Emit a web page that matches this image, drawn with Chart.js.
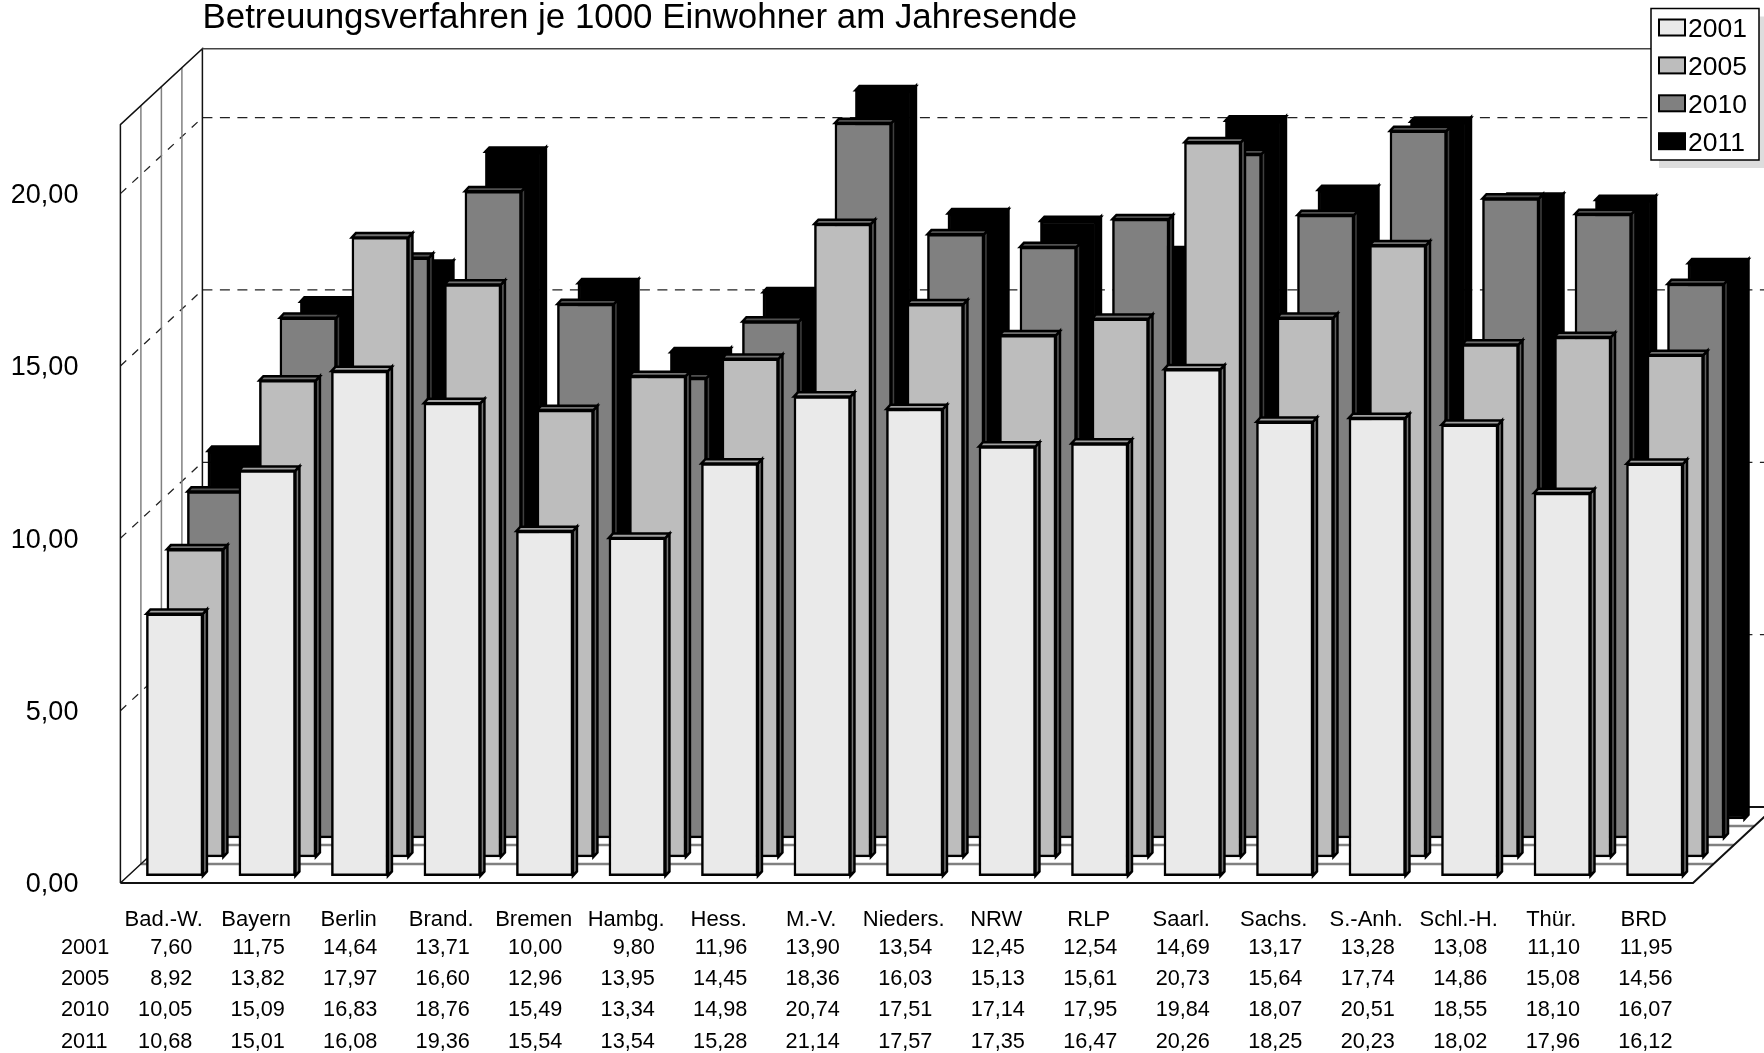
<!DOCTYPE html>
<html><head><meta charset="utf-8">
<style>html,body{margin:0;padding:0;background:#fff}canvas{display:block}</style>
<script src="https://cdn.jsdelivr.net/npm/chart.js@4/dist/chart.umd.min.js"></script>
</head><body><canvas id="c" width="1764" height="1053" style="width:1764px;height:1053px"></canvas>
<script>
const categories=["Bad.-W.","Bayern","Berlin","Brand.","Bremen","Hambg.","Hess.","M.-V.","Nieders.","NRW","RLP","Saarl.","Sachs.","S.-Anh.","Schl.-H.","Thür.","BRD"];
const v2001=[7.60,11.75,14.64,13.71,10.00,9.80,11.96,13.90,13.54,12.45,12.54,14.69,13.17,13.28,13.08,11.10,11.95];
const v2005=[8.92,13.82,17.97,16.60,12.96,13.95,14.45,18.36,16.03,15.13,15.61,20.73,15.64,17.74,14.86,15.08,14.56];
const v2010=[10.05,15.09,16.83,18.76,15.49,13.34,14.98,20.74,17.51,17.14,17.95,19.84,18.07,20.51,18.55,18.10,16.07];
const v2011=[10.68,15.01,16.08,19.36,15.54,13.54,15.28,21.14,17.57,17.35,16.47,20.26,18.25,20.23,18.02,17.96,16.12];
const years=["2001","2005","2010","2011"];
const seriesValues=[v2001,v2005,v2010,v2011];
const faceColors=["#EAEAEA","#BDBDBD","#808080","#000000"];
const sideColors=["#777777","#5f5f5f","#404040","#000000"];
const topColors=["#A0A0A0","#707070","#505050","#000000"];
const FONT='"Liberation Sans",Arial,sans-serif';
const num=v=>v.toFixed(2).replace('.',',');
const DEPTH_X=82,DEPTH_Y=76,STEP_X=20.5,STEP_Y=18.9,BAR_DX=8,BAR_DY=7.3,SLAB_X=4,SLAB_Y=4.3;

const scene={
 id:'scene',
 afterLayout(ch){ if(ch.titleBlock){ch.titleBlock.left=202.5;} },
 beforeDatasetsDraw(ch){
  const c=ch.ctx,y=ch.scales.y,a=ch.chartArea;
  const L=a.left,R=a.right,T=a.top,B=a.bottom,dx=DEPTH_X,dy=DEPTH_Y;
  c.save();
  // dashed grid on side and back wall
  c.strokeStyle='#222';c.lineWidth=1.3;
  [5,10,15,20].forEach(v=>{const p=y.getPixelForValue(v);
    c.setLineDash([8,8.2]);
    c.beginPath();c.moveTo(L,p);c.lineTo(L+dx,p-dy);c.stroke();
    c.setLineDash([10,7.5]);
    c.beginPath();c.moveTo(L+dx,p-dy);c.lineTo(R+dx,p-dy);c.stroke();});
  c.setLineDash([]);
  // floor / wall subdivision
  c.strokeStyle='#808080';c.lineWidth=1.5;
  for(let i=1;i<4;i++){const f=i/4,x=L+dx*f;
    c.beginPath();c.moveTo(x,T-dy*f);c.lineTo(x,B-dy*f);c.stroke();
    c.lineWidth=2.5;
    c.beginPath();c.moveTo(x,B-dy*f);c.lineTo(R+dx*f,B-dy*f);c.stroke();
    c.lineWidth=1.5;}
  // frame
  c.strokeStyle='#111';c.lineWidth=1.5;
  c.beginPath();c.moveTo(L,B);c.lineTo(L,T);c.lineTo(L+dx,T-dy);c.lineTo(L+dx,B-dy);c.lineTo(L,B);c.stroke();
  c.strokeStyle='#444';
  c.beginPath();c.moveTo(L+dx,T-dy);c.lineTo(R+dx,T-dy);c.stroke();
  c.strokeStyle='#111';c.lineWidth=2;
  c.beginPath();c.moveTo(L,B);c.lineTo(R,B);c.lineTo(R+dx,B-dy);c.stroke();
  c.beginPath();c.moveTo(L+dx,B-dy);c.lineTo(R+dx,B-dy);c.stroke();
  c.restore();
 },
 beforeDatasetDraw(ch,{index}){
  const c=ch.ctx;c.save();
  c.translate(BAR_DX+index*STEP_X,-(BAR_DY+index*STEP_Y));
  const meta=ch.getDatasetMeta(index);
  meta.data.forEach(b=>{
    const l=b.x-b.width/2,r=b.x+b.width/2,t=b.y,bt=b.base;
    c.lineWidth=2.5;c.strokeStyle='#000';c.lineJoin='miter';
    c.fillStyle=sideColors[index];
    c.beginPath();c.moveTo(r,t);c.lineTo(r+SLAB_X,t-SLAB_Y);c.lineTo(r+SLAB_X,bt-SLAB_Y);c.lineTo(r,bt);c.closePath();c.fill();c.stroke();
    c.fillStyle=topColors[index];
    c.beginPath();c.moveTo(l,t);c.lineTo(l+SLAB_X,t-SLAB_Y);c.lineTo(r+SLAB_X,t-SLAB_Y);c.lineTo(r,t);c.closePath();c.fill();c.stroke();
  });
 },
 afterDatasetDraw(ch){ch.ctx.restore();},
 afterDraw(ch){
  const c=ch.ctx,x=ch.scales.x;
  c.save();
  // data table below the axis
  c.font='21.7px '+FONT;c.fillStyle='#000';c.textBaseline='middle';
  const rows=[948,979.5,1010.5,1042];
  years.forEach((yr,i)=>{
    c.textAlign='left';c.fillText(yr,61,rows[i]);
    c.textAlign='right';
    seriesValues[i].forEach((v,k)=>c.fillText(num(v),x.getPixelForValue(k)+25.7,rows[i]));
  });
  // legend
  const lx=1651,ly=8.5,lw=108,lh=151.5;
  c.fillStyle='#DDDDDD';c.fillRect(lx+8,ly+8,lw,lh);
  c.fillStyle='#fff';c.fillRect(lx,ly,lw,lh);
  c.strokeStyle='#000';c.lineWidth=1.5;c.strokeRect(lx,ly,lw,lh);
  c.font='26.5px '+FONT;c.textAlign='left';
  years.forEach((yr,i)=>{
    const sy=19.5+i*37.9;
    c.fillStyle=faceColors[i];c.fillRect(1659,sy,26,16);
    c.strokeStyle='#000';c.lineWidth=2;c.strokeRect(1659,sy,26,16);
    c.fillStyle='#000';c.fillText(yr,1688,sy+10);
  });
  c.restore();
 }
};

new Chart(document.getElementById('c'),{
 type:'bar',
 data:{labels:categories,datasets:years.map((yr,i)=>({label:yr,data:seriesValues[i],backgroundColor:faceColors[i],borderColor:'#000',borderWidth:2.5,borderSkipped:false,clip:false}))},
 plugins:[scene],
 options:{
  responsive:false,animation:false,devicePixelRatio:1,
  layout:{padding:{left:0,right:71,top:0,bottom:0}},
  datasets:{bar:{grouped:false,barThickness:56.5}},
  plugins:{
   legend:{display:false},tooltip:{enabled:false},
   title:{display:true,text:'Betreuungsverfahren je 1000 Einwohner am Jahresende',align:'start',color:'#000',
     font:{family:FONT,size:34.9,weight:'normal',lineHeight:1.08},padding:{top:0,bottom:87}}
  },
  scales:{
   x:{grid:{display:false,drawTicks:false},border:{display:false},
     ticks:{color:'#000',font:{family:FONT,size:22},padding:24,labelOffset:-3,maxRotation:0,autoSkip:false},
     afterFit(s){s.height=170;}},
   y:{min:0,max:22,grid:{display:false,drawTicks:false},border:{display:false},
     afterBuildTicks(s){s.ticks=s.ticks.filter(t=>t.value%5===0);},
     ticks:{stepSize:5,color:'#000',font:{family:FONT,size:27},padding:42,labelOffset:2,callback:v=>num(v)},
     afterFit(s){s.width=120.4;}}
  }
 }
});
</script></body></html>
